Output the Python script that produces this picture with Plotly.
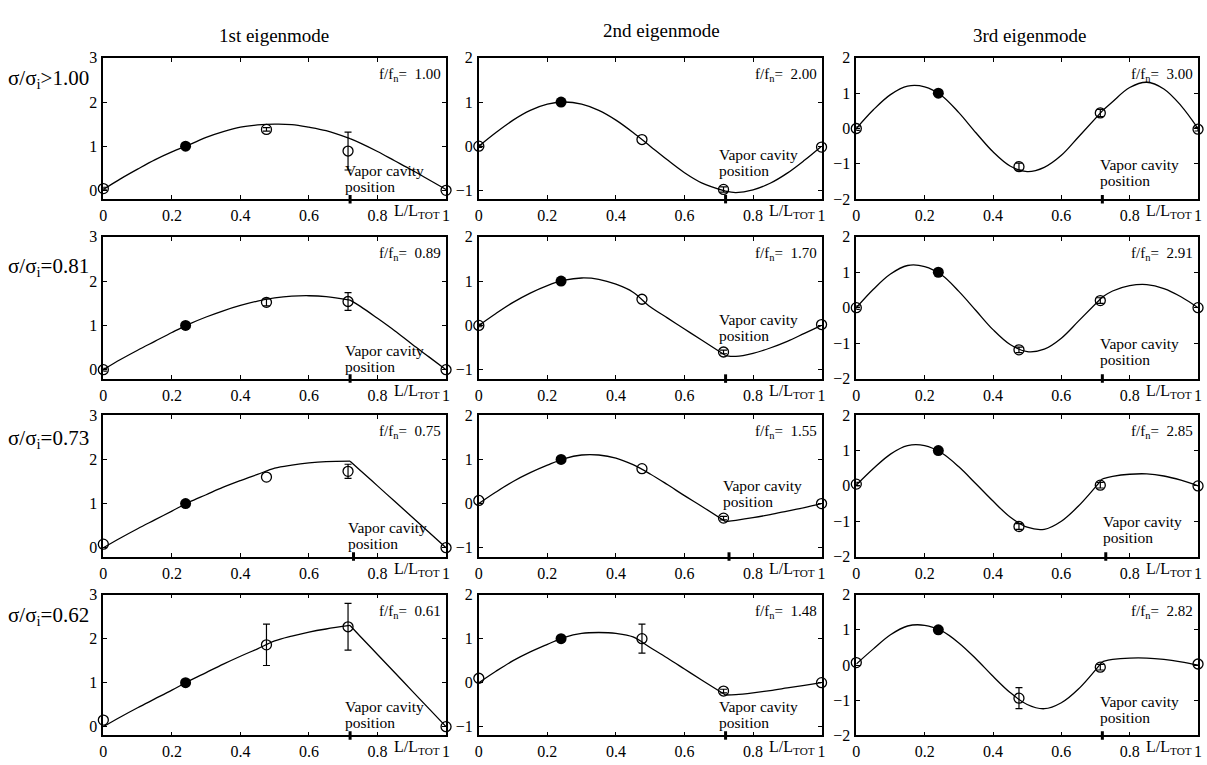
import plotly.graph_objects as go

# ---------------- data ----------------
CURVE_X = [0, 0.05, 0.1, 0.15, 0.2, 0.25, 0.3, 0.35, 0.4, 0.45, 0.5,
           0.55, 0.6, 0.65, 0.72, 0.75, 0.8, 0.85, 0.9, 0.95, 1.0]
KINK_X = 0.72

# theory curves, column 1 (1st eigenmode)
CURVE_C1_R1 = [0.02, 0.26, 0.48, 0.69, 0.87, 1.03, 1.2, 1.33, 1.43, 1.48, 1.5,
               1.49, 1.43, 1.35, 1.17, 1.07, 0.88, 0.67, 0.46, 0.24, 0.02]
CURVE_C1_R2 = [0.0, 0.23, 0.44, 0.64, 0.84, 1.03, 1.19, 1.33, 1.45, 1.55, 1.62,
               1.66, 1.67, 1.65, 1.57, 1.43, 1.16, 0.88, 0.58, 0.29, 0.0]
CURVE_C1_R3 = [0.0, 0.22, 0.43, 0.63, 0.83, 1.03, 1.2, 1.37, 1.52, 1.66, 1.8,
               1.87, 1.92, 1.95, 1.96, 1.75, 1.4, 1.05, 0.7, 0.35, 0.0]
CURVE_C1_R4 = [0.0, 0.22, 0.43, 0.63, 0.83, 1.04, 1.23, 1.42, 1.6, 1.77, 1.95,
               2.06, 2.15, 2.22, 2.3, 2.05, 1.64, 1.23, 0.82, 0.41, 0.0]
# column 2 (2nd eigenmode)
CURVE_C2_R1 = [0.0, 0.31, 0.59, 0.81, 0.95, 1.0, 0.95, 0.81, 0.59, 0.31, 0.0,
               -0.31, -0.6, -0.83, -1.02, -1.05, -0.99, -0.84, -0.61, -0.32, 0.0]
CURVE_C2_R2 = [0.0, 0.27, 0.52, 0.73, 0.9, 1.02, 1.07, 1.04, 0.93, 0.75, 0.42,
               0.17, -0.08, -0.33, -0.68, -0.7, -0.63, -0.51, -0.36, -0.18, 0.0]
CURVE_C2_R3 = [0.0, 0.26, 0.5, 0.7, 0.87, 1.02, 1.1, 1.1, 1.03, 0.88, 0.67,
               0.43, 0.18, -0.06, -0.41, -0.38, -0.32, -0.25, -0.17, -0.09, 0.0]
CURVE_C2_R4 = [0.0, 0.26, 0.5, 0.7, 0.87, 1.03, 1.12, 1.14, 1.12, 1.04, 0.8,
               0.56, 0.31, 0.06, -0.28, -0.27, -0.23, -0.18, -0.12, -0.06, 0.0]
# column 3 (3rd eigenmode)
CURVE_C3_R1 = [0.0, 0.53, 0.96, 1.2, 1.18, 0.93, 0.45, -0.12, -0.66, -1.06, -1.22,
               -1.1, -0.76, -0.24, 0.5, 0.76, 1.16, 1.31, 1.12, 0.65, 0.0]
CURVE_C3_R2 = [0.0, 0.52, 0.95, 1.19, 1.16, 0.92, 0.46, -0.08, -0.62, -1.04, -1.24,
               -1.17, -0.86, -0.38, 0.3, 0.47, 0.62, 0.65, 0.54, 0.31, 0.0]
CURVE_C3_R3 = [0.02, 0.49, 0.9, 1.14, 1.14, 0.93, 0.54, 0.06, -0.43, -0.88, -1.17,
               -1.23, -1.0, -0.57, 0.2, 0.27, 0.33, 0.34, 0.28, 0.16, 0.0]
CURVE_C3_R4 = [0.03, 0.46, 0.86, 1.11, 1.13, 0.97, 0.63, 0.18, -0.32, -0.78, -1.12,
               -1.24, -1.07, -0.68, 0.1, 0.16, 0.2, 0.2, 0.16, 0.09, 0.0]

# measured points (index 1 = reference point, filled)
MARK_X = [0, 0.24, 0.476, 0.714, 1.0]
MARK_C1_R1 = [0.04, 1.0, 1.38, 0.89, 0.0]
MARK_C1_R2 = [0.0, 1.0, 1.52, 1.54, 0.0]
MARK_C1_R3 = [0.08, 1.0, 1.6, 1.73, 0.0]
MARK_C1_R4 = [0.15, 1.0, 1.86, 2.27, 0.0]
MARK_C2_R1 = [0.0, 1.0, 0.15, -0.98, -0.02]
MARK_C2_R2 = [0.0, 1.0, 0.59, -0.6, 0.02]
MARK_C2_R3 = [0.07, 1.0, 0.79, -0.33, 0.0]
MARK_C2_R4 = [0.1, 1.0, 1.0, -0.19, 0.0]
MARK_C3_R1 = [0.0, 1.0, -1.08, 0.44, -0.02]
MARK_C3_R2 = [0.0, 1.0, -1.19, 0.2, 0.0]
MARK_C3_R3 = [0.05, 1.0, -1.15, 0.02, 0.0]
MARK_C3_R4 = [0.07, 1.0, -0.94, -0.06, 0.03]

# error bar half-lengths
ERR_C1_R1 = [0.03, 0, 0.04, 0.43, 0]
ERR_C1_R2 = [0.03, 0, 0.08, 0.2, 0]
ERR_C1_R3 = [0, 0, 0, 0.16, 0]
ERR_C1_R4 = [0, 0, 0.47, 0.53, 0]
ERR_C2_R1 = [0.03, 0, 0, 0.06, 0]
ERR_C2_R2 = [0.03, 0, 0, 0.04, 0]
ERR_C2_R3 = [0, 0, 0, 0.04, 0]
ERR_C2_R4 = [0, 0, 0.33, 0.04, 0]
ERR_C3_R1 = [0.05, 0, 0.1, 0.1, 0.05]
ERR_C3_R2 = [0.05, 0, 0.08, 0.08, 0]
ERR_C3_R3 = [0.05, 0, 0.08, 0.08, 0]
ERR_C3_R4 = [0, 0, 0.3, 0.08, 0]

FREQ_C1 = ["1.00", "0.89", "0.75", "0.61"]
FREQ_C2 = ["2.00", "1.70", "1.55", "1.48"]
FREQ_C3 = ["3.00", "2.91", "2.85", "2.82"]

CAVITY_X = [0.72, 0.72, 0.73, 0.72]
ROW_LABELS = ["σ/σ<sub>i</sub>>1.00", "σ/σ<sub>i</sub>=0.81",
              "σ/σ<sub>i</sub>=0.73", "σ/σ<sub>i</sub>=0.62"]
COL_TITLES = ["1st eigenmode", "2nd eigenmode", "3rd eigenmode"]
X_TICKS = [0, 0.2, 0.4, 0.6, 0.8, 1]
X_TICK_TEXT = ["0", "0.2", "0.4", "0.6", "0.8", "1"]
Y_RANGES = [[-0.2, 3], [-1.2, 2], [-2, 2]]
Y_TICKS = [[0, 1, 2, 3], [-1, 0, 1, 2], [-2, -1, 0, 1, 2]]

CURVES = [[CURVE_C1_R1, CURVE_C2_R1, CURVE_C3_R1],
          [CURVE_C1_R2, CURVE_C2_R2, CURVE_C3_R2],
          [CURVE_C1_R3, CURVE_C2_R3, CURVE_C3_R3],
          [CURVE_C1_R4, CURVE_C2_R4, CURVE_C3_R4]]
MARKS = [[MARK_C1_R1, MARK_C2_R1, MARK_C3_R1],
         [MARK_C1_R2, MARK_C2_R2, MARK_C3_R2],
         [MARK_C1_R3, MARK_C2_R3, MARK_C3_R3],
         [MARK_C1_R4, MARK_C2_R4, MARK_C3_R4]]
ERRS = [[ERR_C1_R1, ERR_C2_R1, ERR_C3_R1],
        [ERR_C1_R2, ERR_C2_R2, ERR_C3_R2],
        [ERR_C1_R3, ERR_C2_R3, ERR_C3_R3],
        [ERR_C1_R4, ERR_C2_R4, ERR_C3_R4]]
FREQS = [FREQ_C1, FREQ_C2, FREQ_C3]

# ---------------- layout constants ----------------
W, H = 1207, 765
FONT = "Liberation Serif"
COL_PX = [(100, 445), (478, 823), (858, 1202)]
ROW_PX = [(51, 195.5), (234, 379), (416.5, 561), (600, 744)]
# vapor-cavity text anchor (data coords: left x, block-center y)
VAPOR_POS = [[(0.70, 0.26), (0.695, -0.37), (0.707, -1.24)],
             [(0.70, 0.26), (0.695, -0.04), (0.708, -1.25)],
             [(0.707, 0.28), (0.706, 0.23), (0.716, -1.24)],
             [(0.70, 0.28), (0.695, -0.72), (0.708, -1.25)]]
ROW_LABEL_Y = [73, 265, 441, 622]
COL_TITLE_POS = [(272, 28), (662, 23), (1032, 28)]

fig = go.Figure()
layout = dict(width=W, height=H, margin=dict(l=0, r=0, t=0, b=0),
              paper_bgcolor="white", plot_bgcolor="white", showlegend=False,
              font=dict(family=FONT, color="black", size=15))
annotations = []
shapes = []

for r in range(4):
    for c in range(3):
        k = r * 3 + c + 1
        xa = "x" if k == 1 else f"x{k}"
        ya = "y" if k == 1 else f"y{k}"
        xl = "xaxis" if k == 1 else f"xaxis{k}"
        yl = "yaxis" if k == 1 else f"yaxis{k}"
        x0, x1 = COL_PX[c]
        t0, t1 = ROW_PX[r]
        layout[xl] = dict(domain=[x0 / W, x1 / W], anchor=ya, range=[0, 1],
                          tickvals=X_TICKS, ticktext=X_TICK_TEXT,
                          ticks="inside", ticklen=4, tickwidth=1, tickcolor="black",
                          showline=True, linecolor="black", linewidth=1.6,
                          mirror="ticks", showgrid=False, zeroline=False,
                          tickfont=dict(family=FONT, size=16), ticklabelstandoff=1)
        layout[yl] = dict(domain=[1 - t1 / H, 1 - t0 / H], anchor=xa,
                          range=Y_RANGES[c], tickvals=Y_TICKS[c],
                          ticks="inside", ticklen=4, tickwidth=1, tickcolor="black",
                          showline=True, linecolor="black", linewidth=1.6,
                          mirror="ticks", showgrid=False, zeroline=False,
                          tickfont=dict(family=FONT, size=16), ticklabelstandoff=1)

        # theory curve, split at the cavity kink
        ys = CURVES[r][c]
        ki = CURVE_X.index(KINK_X)
        for seg in (slice(0, ki + 1), slice(ki, len(CURVE_X))):
            fig.add_trace(go.Scatter(x=CURVE_X[seg], y=ys[seg], mode="lines",
                                     line=dict(color="black", width=1.3,
                                               shape="spline", smoothing=1),
                                     xaxis=xa, yaxis=ya, hoverinfo="skip"))
        # error bars
        my = MARKS[r][c]
        er = ERRS[r][c]
        ex = [MARK_X[i] for i in range(5) if er[i] > 0]
        ey = [my[i] for i in range(5) if er[i] > 0]
        ee = [er[i] for i in range(5) if er[i] > 0]
        if ex:
            fig.add_trace(go.Scatter(x=ex, y=ey, mode="markers",
                                     marker=dict(size=2, color="rgba(0,0,0,0)"),
                                     error_y=dict(type="data", array=ee, color="black",
                                                  thickness=1.2, width=3.5),
                                     xaxis=xa, yaxis=ya, hoverinfo="skip"))
        # open circles
        ox = [MARK_X[i] for i in range(5) if i != 1]
        oy = [my[i] for i in range(5) if i != 1]
        fig.add_trace(go.Scatter(x=ox, y=oy, mode="markers",
                                 marker=dict(symbol="circle-open", size=10,
                                             color="black", line=dict(width=1.3)),
                                 cliponaxis=False, xaxis=xa, yaxis=ya))
        # filled reference point
        fig.add_trace(go.Scatter(x=[MARK_X[1]], y=[my[1]], mode="markers",
                                 marker=dict(symbol="circle", size=11, color="black"),
                                 xaxis=xa, yaxis=ya))

        # cavity tick on x-axis
        shapes.append(dict(type="line", xref=xa, yref=f"{ya} domain",
                           x0=CAVITY_X[r], x1=CAVITY_X[r], y0=-0.03, y1=0.03,
                           line=dict(color="black", width=3)))
        # vapor cavity text
        vx, vy = VAPOR_POS[r][c]
        annotations.append(dict(text="Vapor cavity", x=vx, y=vy, xref=xa, yref=ya,
                                xanchor="left", yanchor="middle", yshift=8,
                                showarrow=False, font=dict(family=FONT, size=15.5)))
        annotations.append(dict(text="position", x=vx, y=vy, xref=xa, yref=ya,
                                xanchor="left", yanchor="middle", yshift=-8,
                                showarrow=False, font=dict(family=FONT, size=15.5)))
        # f/fn label
        annotations.append(dict(text="f/f<sub>n</sub>=\u00a0\u00a0" + FREQS[c][r],
                                x=1, y=1, xref=f"{xa} domain", yref=f"{ya} domain",
                                xanchor="right", yanchor="top", xshift=-3, yshift=-6,
                                showarrow=False, font=dict(family=FONT, size=15)))
        # L/L_TOT label
        annotations.append(dict(text="L/L<sub>TOT</sub>", x=0.915, y=0,
                                xref=xa, yref=f"{ya} domain",
                                xanchor="center", yanchor="top", yshift=-1,
                                showarrow=False, font=dict(family=FONT, size=16)))

for r in range(4):
    annotations.append(dict(text=ROW_LABELS[r], x=88 / W, y=1 - ROW_LABEL_Y[r] / H,
                            xref="paper", yref="paper", xanchor="right",
                            yanchor="middle", showarrow=False,
                            font=dict(family=FONT, size=21)))
for c in range(3):
    px, py = COL_TITLE_POS[c]
    annotations.append(dict(text=COL_TITLES[c], x=px / W, y=1 - py / H,
                            xref="paper", yref="paper", xanchor="center",
                            yanchor="middle", showarrow=False,
                            font=dict(family=FONT, size=19)))

layout["annotations"] = annotations
layout["shapes"] = shapes
fig.update_layout(**layout)
fig.write_html("out.html")
